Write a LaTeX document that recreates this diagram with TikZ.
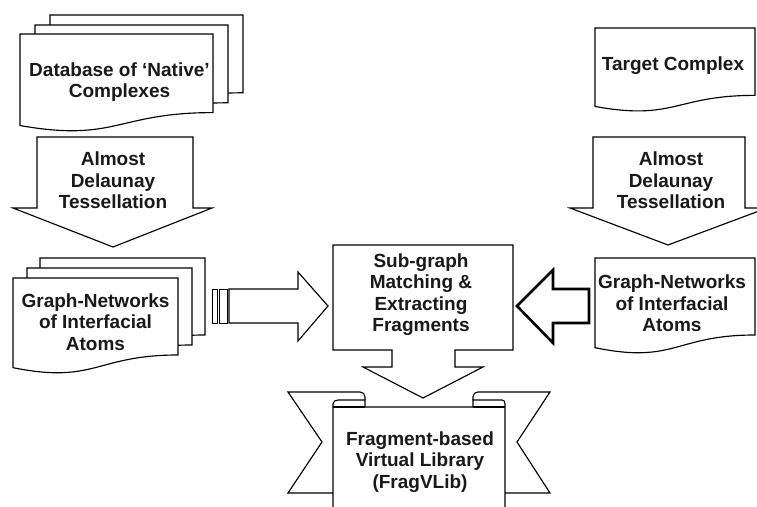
\documentclass[tikz,border=0pt]{standalone}
\usepackage{fontspec}
\setmainfont{Liberation Sans}
\newcommand\docshape[4]{% x y w h
  \draw[shp] (#1,#2) -- ({#1+#3},#2) -- ({#1+#3},{#2+0.802*#4})
    .. controls ({#1+0.5*#3},{#2+0.802*#4}) and ({#1+0.5*#3},{#2+1.107*#4}) ..
    (#1,{#2+0.934*#4}) -- cycle;}
\begin{document}
\begin{tikzpicture}[x=1pt,y=-1pt,
  shp/.style={draw=black,line width=1.15pt,fill=white,line join=miter},
  thinshp/.style={shp,line width=0.9pt},
  thickshp/.style={shp,line width=2.6pt},
  lbl/.style={font=\fontsize{19}{21.3}\selectfont\bfseries,align=center,inner sep=0pt,text=black!90}]
\useasboundingbox (0,0) rectangle (757,506);
\clip (0,0) rectangle (757,506);
\fill[white] (0,0) rectangle (757,506);

% Database multidocument
\docshape{50}{15}{193}{97}
\docshape{35}{25}{193}{97}
\docshape{20}{34}{193}{98}
\node[lbl] (db) at (119.5,82) {Database of `Native'\\Complexes};

% left down arrow
\draw[shp] (37,137) -- (193,137) -- (193,208) -- (212,208) -- (113,247) -- (13,208) -- (37,208) -- cycle;
\node[lbl] (adtL) at (113,180.5) {Almost\\Delaunay\\Tessellation};

% Target complex
\docshape{595}{28}{160}{84}
\node[lbl,anchor=base] (tc) at (673,70) {Target Complex};

% right down arrow
\draw[shp] (593,137) -- (745,137) -- (745,208) -- (767,208) -- (668,245) -- (570,208) -- (593,208) -- cycle;
\node[lbl] (adtR) at (671,180.5) {Almost\\Delaunay\\Tessellation};

% left graph-networks multidocument
\docshape{40}{258}{165}{96}
\docshape{27}{268}{165}{96}
\docshape{13}{278}{165}{96}
\node[lbl] (gnL) at (95.5,322) {Graph-Networks\\of Interfacial\\Atoms};

% right graph-networks document
\docshape{595}{258}{160}{96}
\node[lbl] (gnR) at (672,303.5) {Graph-Networks\\of Interfacial\\Atoms};

% striped right arrow
\draw[thinshp] (212,289) rectangle (217,323);
\draw[thinshp] (219.5,289) rectangle (227,323);
\draw[shp] (229,289) -- (298,289) -- (298,272) -- (328,306) -- (298,341) -- (298,323) -- (229,323) -- cycle;

% central callout box with down arrow
\draw[shp] (333,245) -- (513,245) -- (513,350) -- (455,350) -- (455,367) -- (483,367) -- (423,398) -- (363,367) -- (392,367) -- (392,350) -- (333,350) -- cycle;
\node[lbl] (sub) at (421,294.5) {Sub-graph\\Matching \&\\Extracting\\Fragments};

% thick left arrow
\draw[thickshp] (517,306) -- (553,270) -- (553,289) -- (589,289) -- (589,323) -- (553,323) -- (553,343) -- cycle;

% ribbon
\draw[shp] (333,493) -- (288,493) -- (322,442) -- (288,392) -- (360,392) .. controls (363,392) and (365,394) .. (365,397) -- (365,400);
\draw[shp] (505,493) -- (550,493) -- (517,442) -- (550,392) -- (478,392) .. controls (475,392) and (473,394) .. (473,397) -- (473,400);
\draw[shp] (333,520) -- (333,404) .. controls (333,401.5) and (335,400) .. (338,400) -- (365,400) -- (365,407) -- (473,407) -- (473,400) -- (502,400) .. controls (504,400) and (505,401.5) .. (505,404) -- (505,520) -- cycle;
\draw[shp] (333,407) -- (365,407);
\draw[shp] (473,407) -- (505,407);
\node[lbl] (lib) at (420,462) {Fragment-based\\Virtual Library\\(FragVLib)};
\end{tikzpicture}
\end{document}
